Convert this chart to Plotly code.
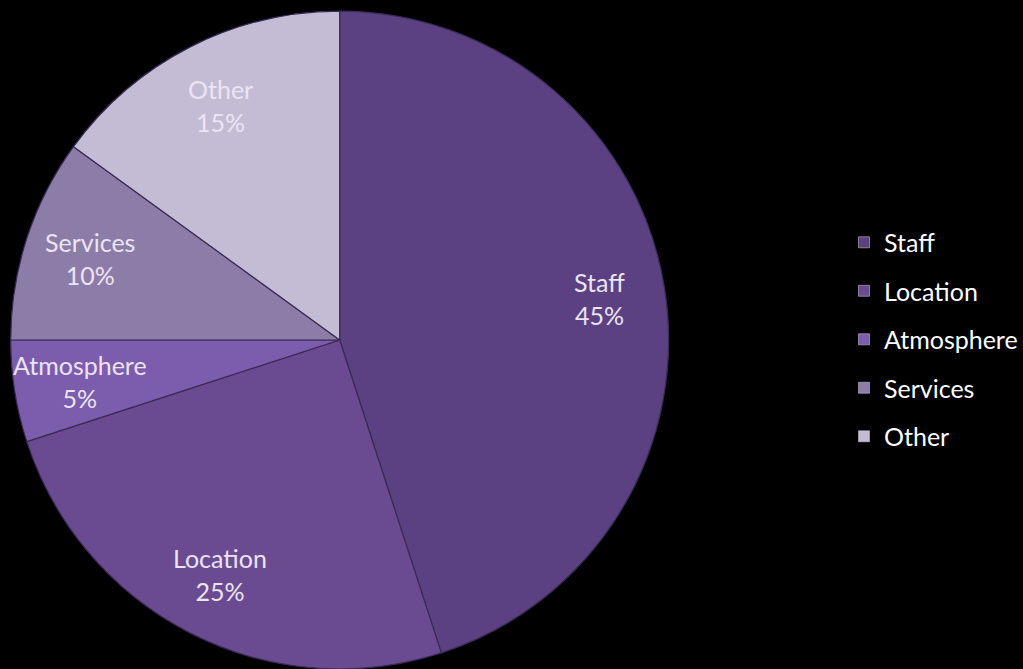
import math
import plotly.graph_objects as go

categories = ["Staff", "Location", "Atmosphere", "Services", "Other"]
values = [45, 25, 5, 10, 15]
colors = ["#5b4182", "#6a4b92", "#7c5cad", "#8b7ca8", "#c4bcd4"]

FONT = "Lato"
W, H = 1023, 669
dom_x = [10 / W, 670 / W]
dom_y = [0, 0.9835]

fig = go.Figure()
fig.add_trace(go.Pie(
    labels=categories,
    values=values,
    sort=False,
    direction="clockwise",
    rotation=0,
    marker=dict(colors=colors, line=dict(color="#3a2a55", width=1.2)),
    textinfo="none",
    showlegend=False,
    domain=dict(x=dom_x, y=dom_y),
    hoverinfo="label+percent",
))

# slice labels placed along each slice's bisector (derived from the values)
cx_px = (dom_x[0] + dom_x[1]) / 2 * W
cy_px = (dom_y[0] + dom_y[1]) / 2 * H
R = min((dom_x[1] - dom_x[0]) * W, (dom_y[1] - dom_y[0]) * H) / 2
total = sum(values)
cum = 0
annotations = []
for c, v in zip(categories, values):
    mid = (cum + v / 2) / total * 2 * math.pi
    cum += v
    r = 0.8 * R
    x = (cx_px + r * math.sin(mid)) / W
    y = (cy_px + r * math.cos(mid)) / H
    annotations.append(dict(
        x=x, y=y, xref="paper", yref="paper", showarrow=False,
        xanchor="center", yanchor="middle",
        text=f"{c}<br>{round(v / total * 100)}%",
        font=dict(family=FONT, size=25, color="#ece4f4"),
        align="center",
    ))

for c, col in zip(categories, colors):
    fig.add_trace(go.Scatter(
        x=[None], y=[None], mode="markers", name=c, legendgroup=c,
        marker=dict(symbol="square", size=11, color=col, line=dict(color="#d8d0e8", width=0.5)),
        showlegend=True,
    ))

fig.update_layout(
    width=W, height=H,
    margin=dict(l=0, r=0, t=0, b=0),
    paper_bgcolor="#000000",
    plot_bgcolor="#000000",
    xaxis=dict(visible=False),
    yaxis=dict(visible=False),
    annotations=annotations,
    legend=dict(
        x=0.826, y=0.4925, xanchor="left", yanchor="middle",
        font=dict(family=FONT, size=25, color="#ffffff"),
        tracegroupgap=13, bgcolor="rgba(0,0,0,0)",
    ),
)

fig.write_html(
    "out.html",
    config={"displayModeBar": False},
    post_script="document.body.style.margin='0';document.body.style.background='#000';",
)
